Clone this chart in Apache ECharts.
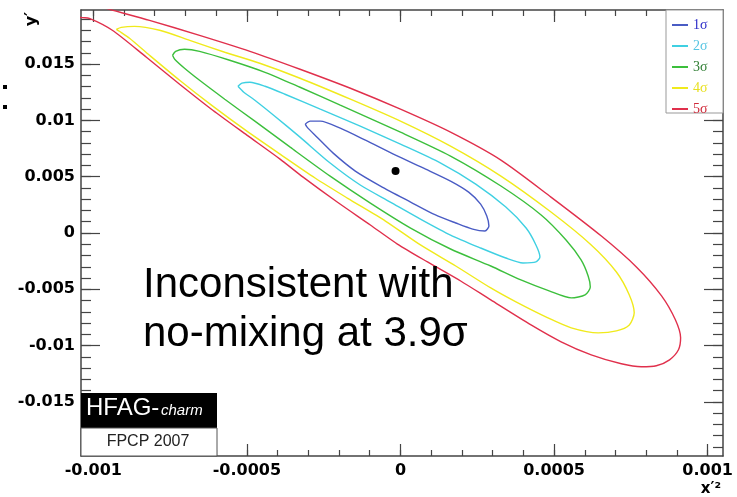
<!DOCTYPE html>
<html>
<head>
<meta charset="utf-8">
<script src="https://cdn.jsdelivr.net/npm/echarts@6.0.0/dist/echarts.min.js"></script>
<style>
  html, body { margin: 0; padding: 0; background: #fff; }
  #main { width: 737px; height: 497px; }
</style>
</head>
<body>
<div id="main"></div>
<script>
// contour levels as [x', y'] points (each loop closed)
const sigmaNames = ['1σ', '2σ', '3σ', '4σ', '5σ'];

const sigma1 = [
  [-0.000310, 0.00966], [-0.000294, 0.00993], [-0.000261, 0.00993], [-0.000196, 0.00931],
  [-0.000114, 0.00824], [-0.000016, 0.00691], [0.000082, 0.00567], [0.000163, 0.00461],
  [0.000222, 0.00363], [0.000261, 0.00257], [0.000281, 0.00151], [0.000288, 0.00062],
  [0.000275, 0.00018], [0.000235, 0.00035], [0.000180, 0.00089], [0.000114, 0.00160],
  [0.000033, 0.00275], [-0.000065, 0.00417], [-0.000147, 0.00550], [-0.000219, 0.00709],
  [-0.000275, 0.00860], [-0.000304, 0.00940], [-0.000310, 0.00966]
];
const sigma2 = [
  [-0.000529, 0.01303], [-0.000516, 0.01330], [-0.000490, 0.01339], [-0.000441, 0.01303],
  [-0.000376, 0.01232], [-0.000261, 0.01099], [-0.000131, 0.00949], [0.000000, 0.00789],
  [0.000131, 0.00621], [0.000245, 0.00434], [0.000343, 0.00230], [0.000409, 0.00044],
  [0.000441, -0.00106], [0.000454, -0.00213], [0.000441, -0.00257], [0.000399, -0.00266],
  [0.000343, -0.00222], [0.000261, -0.00133], [0.000163, -0.00018], [0.000065, 0.00124],
  [-0.000033, 0.00275], [-0.000131, 0.00426], [-0.000229, 0.00621], [-0.000327, 0.00851],
  [-0.000409, 0.01037], [-0.000474, 0.01179], [-0.000510, 0.01250], [-0.000529, 0.01303]
];
const sigma3 = [
  [-0.000742, 0.01578], [-0.000732, 0.01613], [-0.000703, 0.01631], [-0.000654, 0.01613],
  [-0.000556, 0.01534], [-0.000441, 0.01427], [-0.000327, 0.01294], [-0.000196, 0.01135],
  [0.000000, 0.00895], [0.000163, 0.00683], [0.000327, 0.00417], [0.000458, 0.00160],
  [0.000539, -0.00062], [0.000588, -0.00239], [0.000611, -0.00381], [0.000618, -0.00479],
  [0.000601, -0.00550], [0.000556, -0.00576], [0.000484, -0.00514], [0.000392, -0.00417],
  [0.000294, -0.00293], [0.000163, -0.00142], [0.000033, 0.00044], [-0.000098, 0.00266],
  [-0.000229, 0.00505], [-0.000359, 0.00762], [-0.000474, 0.00993], [-0.000572, 0.01188],
  [-0.000654, 0.01356], [-0.000703, 0.01463], [-0.000735, 0.01543], [-0.000742, 0.01578]
];
const sigma4 = [
  [-0.000925, 0.01808], [-0.000909, 0.01826], [-0.000866, 0.01835], [-0.000784, 0.01800],
  [-0.000686, 0.01711], [-0.000572, 0.01605], [-0.000458, 0.01507], [-0.000327, 0.01374],
  [-0.000163, 0.01188], [0.000000, 0.00993], [0.000163, 0.00771], [0.000327, 0.00505],
  [0.000490, 0.00186], [0.000621, -0.00106], [0.000703, -0.00346], [0.000745, -0.00550],
  [0.000761, -0.00709], [0.000745, -0.00816], [0.000703, -0.00869], [0.000644, -0.00887],
  [0.000556, -0.00842], [0.000480, -0.00754], [0.000376, -0.00612], [0.000294, -0.00488],
  [0.000180, -0.00293], [0.000065, -0.00106], [-0.000049, 0.00106], [-0.000173, 0.00310],
  [-0.000278, 0.00488], [-0.000392, 0.00700], [-0.000500, 0.00904], [-0.000611, 0.01126],
  [-0.000719, 0.01356], [-0.000817, 0.01578], [-0.000882, 0.01729], [-0.000915, 0.01791],
  [-0.000925, 0.01808]
];
// the 5 sigma loop runs past the top-left corner of the frame and gets clipped
const sigma5 = [
  [-0.001111, 0.02083], [-0.001013, 0.02039], [-0.000948, 0.01986], [-0.000817, 0.01888],
  [-0.000654, 0.01755], [-0.000490, 0.01613], [-0.000327, 0.01454], [-0.000163, 0.01285],
  [0.000000, 0.01099], [0.000163, 0.00895], [0.000327, 0.00647], [0.000490, 0.00319],
  [0.000654, -0.00027], [0.000768, -0.00301], [0.000850, -0.00558], [0.000895, -0.00771],
  [0.000912, -0.00931], [0.000905, -0.01037], [0.000876, -0.01126], [0.000833, -0.01179],
  [0.000784, -0.01188], [0.000719, -0.01161], [0.000621, -0.01082], [0.000523, -0.00966],
  [0.000425, -0.00816], [0.000294, -0.00594], [0.000196, -0.00426], [0.000088, -0.00257],
  [-0.000010, -0.00098], [-0.000098, 0.00071], [-0.000206, 0.00275], [-0.000317, 0.00496],
  [-0.000392, 0.00656], [-0.000500, 0.00869], [-0.000611, 0.01090], [-0.000719, 0.01321],
  [-0.000827, 0.01560], [-0.000938, 0.01800], [-0.001013, 0.01906], [-0.001042, 0.01915],
  [-0.001078, 0.01977], [-0.001111, 0.02083]
];
const bestFit = [[-0.000016, 0.00550]];

const xMajorTicks = [-0.001, -0.0005, 0, 0.0005, 0.001];
const xTickLabels = ['-0.001', '-0.0005', '0', '0.0005', '0.001'];
const yMajorTicks = [-0.015, -0.01, -0.005, 0, 0.005, 0.01, 0.015];
const yTickLabels = ['-0.015', '-0.01', '-0.005', '0', '0.005', '0.01', '0.015'];

const lineColors = ['#4a5cc4', '#3fd0e2', '#3cbf3c', '#f0ea1c', '#e0304c'];
const legendTextColors = ['#2a2ac8', '#55c4e2', '#2e7d32', '#e8e020', '#d02838'];

// minor ticks: 5 per major step, y ones run to the frame edge
const xMinorTicks = [];
for (let i = -10; i <= 10; i++) xMinorTicks.push(i / 10000);
const yMinorTicks = [];
for (let i = -19; i <= 19; i++) yMinorTicks.push(i / 1000);

const X_MIN = -0.00104, X_MAX = 0.00105, Y_MIN = -0.0198, Y_MAX = 0.0198;
const frameColor = '#444';
const labelFont = { color: '#000', fontFamily: 'DejaVu Sans', fontWeight: 'bold', fontSize: 16 };

function pickLabel(ticks, labels) {
  return function (v) {
    let best = 0;
    ticks.forEach((t, i) => { if (Math.abs(t - v) < Math.abs(ticks[best] - v)) best = i; });
    return labels[best];
  };
}

function xAx(pos, ticks, len, withLine, withLabel) {
  return {
    type: 'value', position: pos, min: X_MIN, max: X_MAX,
    splitLine: { show: false },
    axisLine: { show: withLine, onZero: false, lineStyle: { color: frameColor, width: 1.5 } },
    axisTick: { show: true, inside: true, length: len, customValues: ticks,
                lineStyle: { color: frameColor, width: 1.2 } },
    axisLabel: withLabel
      ? Object.assign({ show: true, customValues: xMajorTicks, margin: 7,
                        formatter: pickLabel(xMajorTicks, xTickLabels) }, labelFont)
      : { show: false }
  };
}
function yAx(pos, ticks, len, withLine, withLabel) {
  return {
    type: 'value', position: pos, min: Y_MIN, max: Y_MAX,
    splitLine: { show: false },
    axisLine: { show: withLine, onZero: false, lineStyle: { color: frameColor, width: 1.5 } },
    axisTick: { show: true, inside: true, length: len, customValues: ticks,
                lineStyle: { color: frameColor, width: 1.2 } },
    axisLabel: withLabel
      ? Object.assign({ show: true, customValues: yMajorTicks, margin: 6,
                        formatter: pickLabel(yMajorTicks, yTickLabels) }, labelFont)
      : { show: false }
  };
}

const contours = [sigma1, sigma2, sigma3, sigma4, sigma5];
const series = contours.map((pts, i) => ({
  name: sigmaNames[i],
  type: 'line',
  data: pts,
  xAxisIndex: 0,
  yAxisIndex: 0,
  showSymbol: false,
  smooth: 0.25,
  clip: true,
  lineStyle: { width: 1.4, color: lineColors[i] },
  itemStyle: { color: lineColors[i] },
  z: 10 - i
}));
series.push({
  type: 'scatter', data: bestFit, symbolSize: 8,
  itemStyle: { color: '#000', opacity: 1 }, z: 20
});

const chart = echarts.init(document.getElementById('main'));
chart.setOption({
  animation: false,
  backgroundColor: '#fff',
  grid: { left: 81, top: 10, right: 14, bottom: 41 },
  xAxis: [
    xAx('bottom', xMajorTicks, 12, true, true),
    xAx('bottom', xMinorTicks, 6, false, false),
    xAx('top', xMajorTicks, 12, true, false),
    xAx('top', xMinorTicks, 6, false, false)
  ],
  yAxis: [
    yAx('left', yMajorTicks, 19, true, true),
    yAx('left', yMinorTicks, 10, false, false),
    yAx('right', yMajorTicks, 19, true, false),
    yAx('right', yMinorTicks, 10, false, false)
  ],
  legend: {
    orient: 'vertical', left: 667, top: 13,
    icon: 'rect', itemWidth: 16, itemHeight: 2, itemGap: 7,
    selectedMode: false,
    data: sigmaNames.map((n, i) => ({ name: n, textStyle: { color: legendTextColors[i] } })),
    textStyle: { fontFamily: 'Liberation Serif', fontSize: 14 }
  },
  graphic: [
    // legend frame
    { type: 'rect', z: 1, shape: { x: 666, y: 10, width: 57, height: 103 },
      style: { fill: '#fff', stroke: '#999', lineWidth: 1 } },
    // axis titles
    { type: 'text', z: 50, x: 32, y: 19, rotation: Math.PI / 2,
      style: { text: 'y′', font: 'bold 16px "DejaVu Sans"', fill: '#000', align: 'center', verticalAlign: 'middle' } },
    { type: 'text', z: 50, x: 721, y: 489,
      style: { text: 'x′²', font: 'bold 15px "DejaVu Sans"', fill: '#000', align: 'right', verticalAlign: 'middle' } },
    // stray colon at the left margin
    { type: 'rect', z: 50, shape: { x: 3, y: 85, width: 4, height: 4 }, style: { fill: '#000' } },
    { type: 'rect', z: 50, shape: { x: 3, y: 105, width: 4, height: 4 }, style: { fill: '#000' } },
    // HFAG badge
    { type: 'rect', z: 60, shape: { x: 81, y: 393, width: 136, height: 35 }, style: { fill: '#000' } },
    { type: 'text', z: 61, x: 86, y: 420,
      style: { text: 'HFAG-', font: '24px "Liberation Sans"', fill: '#fff', verticalAlign: 'bottom' } },
    { type: 'text', z: 61, x: 161, y: 418,
      style: { text: 'charm', font: 'italic 15px "Liberation Sans"', fill: '#fff', verticalAlign: 'bottom' } },
    { type: 'rect', z: 60, shape: { x: 81, y: 428, width: 136, height: 28 },
      style: { fill: '#fff', stroke: '#555', lineWidth: 1 } },
    { type: 'text', z: 61, x: 148, y: 442,
      style: { text: 'FPCP 2007', font: '16px "Liberation Sans"', fill: '#222', align: 'center', verticalAlign: 'middle' } },
    // annotation
    { type: 'text', z: 40, x: 143, y: 285,
      style: { text: 'Inconsistent with', font: '42px "Liberation Sans"', fill: '#000', verticalAlign: 'middle' } },
    { type: 'text', z: 40, x: 143, y: 334,
      style: { text: 'no-mixing at 3.9σ', font: '42px "Liberation Sans"', fill: '#000', verticalAlign: 'middle' } }
  ],
  series: series
});
</script>
</body>
</html>
